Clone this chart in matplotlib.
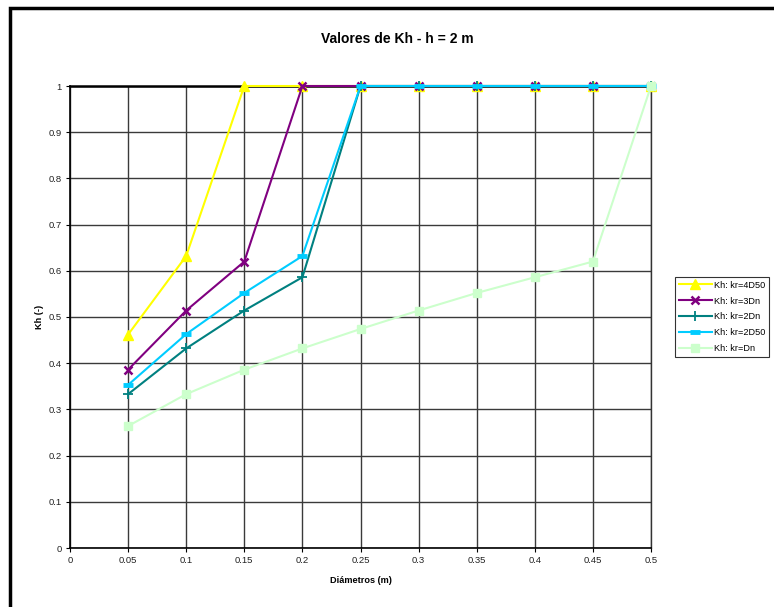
import matplotlib
matplotlib.use("Agg")
import matplotlib.pyplot as plt
from matplotlib.patches import Rectangle

plt.rcParams['font.family'] = ['Liberation Sans', 'DejaVu Sans']

diametros = [0.05, 0.1, 0.15, 0.2, 0.25, 0.3, 0.35, 0.4, 0.45, 0.5]
kh_4d50 = [0.462, 0.632, 1, 1, 1, 1, 1, 1, 1, 1]
kh_3dn = [0.386, 0.514, 0.62, 1, 1, 1, 1, 1, 1, 1]
kh_2dn = [0.333, 0.432, 0.514, 0.586, 1, 1, 1, 1, 1, 1]
kh_2d50 = [0.353, 0.463, 0.552, 0.632, 1, 1, 1, 1, 1, 1]
kh_dn = [0.264, 0.333, 0.386, 0.432, 0.474, 0.514, 0.552, 0.586, 0.62, 1]

labels = ["Kh: kr=4D50", "Kh: kr=3Dn", "Kh: kr=2Dn", "Kh: kr=2D50", "Kh: kr=Dn"]
xticks = [0, 0.05, 0.1, 0.15, 0.2, 0.25, 0.3, 0.35, 0.4, 0.45, 0.5]
xticklabels = ["0", "0.05", "0.1", "0.15", "0.2", "0.25", "0.3", "0.35", "0.4", "0.45", "0.5"]
yticks = [0, 0.1, 0.2, 0.3, 0.4, 0.5, 0.6, 0.7, 0.8, 0.9, 1]
yticklabels = ["0", "0.1", "0.2", "0.3", "0.4", "0.5", "0.6", "0.7", "0.8", "0.9", "1"]

fig = plt.figure(figsize=(7.74, 6.07), dpi=100)
fig.patches.append(Rectangle((9.5/774, -0.05), 1.2, 1 - 8/607 + 0.05,
                             transform=fig.transFigure, fill=False,
                             edgecolor='black', linewidth=2.5))
ax = fig.add_axes([70/774, 1 - 548/607, (651 - 70)/774, (548 - 86)/607])

styles = [
    dict(color='#FFFF00', marker='^', markersize=6.5, mec='#FFFF00', mfc='#FFFF00'),
    dict(color='#800080', marker='x', markersize=5.5, mew=1.8, mec='#800080'),
    dict(color='#008080', marker='+', markersize=6.5, mew=1.3, mec='#008080'),
    dict(color='#00CCFF', marker='_', markersize=7, mew=3.5, mec='#00CCFF'),
    dict(color='#CCFFCC', marker='s', markersize=6, mec='#CCFFCC', mfc='#CCFFCC'),
]
series = [kh_4d50, kh_3dn, kh_2dn, kh_2d50, kh_dn]
for ys, lab, st in zip(series, labels, styles):
    ax.plot(diametros, ys, linewidth=1.5, label=lab, clip_on=False, zorder=3, **st)

ax.set_xlim(0, 0.5)
ax.set_ylim(0, 1)
ax.set_xticks(xticks)
ax.set_xticklabels(xticklabels)
ax.set_yticks(yticks)
ax.set_yticklabels(yticklabels)
ax.tick_params(labelsize=6.8, length=3, width=0.8, color='black', pad=3, labelcolor='#222222')
ax.grid(True, color='#3a3a3a', linewidth=1.0)
ax.set_axisbelow(True)
for s in ['left', 'bottom']:
    ax.spines[s].set_linewidth(1.2)
    ax.spines[s].set_color('black')
ax.spines['top'].set_linewidth(1.8)
ax.spines['top'].set_color('black')
ax.spines['right'].set_linewidth(1.0)
ax.spines['right'].set_color('#333333')

fig.text(397/774, 1 - 39/607, "Valores de Kh - h = 2 m", fontsize=10, fontweight='bold',
         ha='center', va='center')
ax.set_xlabel("Diámetros (m)", fontsize=6.6, fontweight='bold', labelpad=8)
ax.set_ylabel("Kh (-)", fontsize=6.6, fontweight='bold', labelpad=3)

leg = fig.legend(loc='upper left', bbox_to_anchor=(675/774, 1 - 277/607), fontsize=6.6,
                 frameon=True, fancybox=False, edgecolor='black', handlelength=3.6,
                 borderpad=0.4, labelspacing=0.75, handletextpad=0.2, borderaxespad=0)
leg.get_frame().set_linewidth(0.8)

fig.savefig("out.png", dpi=100)
